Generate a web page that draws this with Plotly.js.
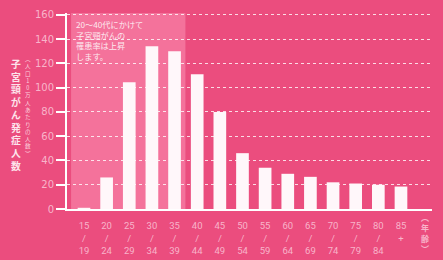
<!DOCTYPE html>
<html>
<head>
<meta charset="utf-8">
<script src="https://cdn.plot.ly/plotly-3.0.1.min.js"></script>
<style>html,body{margin:0;padding:0;background:#eb4d7e;}#chart{width:443px;height:260px;}</style>
</head>
<body>
<div id="chart"></div>
<script>
// Data
const ageGroups = ["15<br>/<br>19","20<br>/<br>24","25<br>/<br>29","30<br>/<br>34","35<br>/<br>39","40<br>/<br>44","45<br>/<br>49","50<br>/<br>54","55<br>/<br>59","60<br>/<br>64","65<br>/<br>69","70<br>/<br>74","75<br>/<br>79","80<br>/<br>84","85<br>+<br> "];
const incidence = [1, 26, 104.5, 134, 130, 111, 80, 46, 34, 29, 26.5, 22, 21, 20, 18.5];
const yTicks = [0, 20, 40, 60, 80, 100, 120, 140, 160];
const yTitle = "子宮頸がん発症人数";
const ySubTitle = "︵人口10万人あたりの人数︶";
const xTitle = "︵年齢︶";
const note = "20〜40代にかけて<br>子宮頸がんの<br>罹患率は上昇<br>します。";
const highlightFrom = 0, highlightTo = 4;

const W = 443, H = 260;
const M = {l: 67, r: 11, t: 13, b: 51};
const plotH = H - M.t - M.b, plotW = W - M.l - M.r;
const px2x = x => (x - M.l) / plotW;
const py2y = y => (H - M.b - y) / plotH;

const bg = '#eb4d7e';
const tickCol = '#f8b4ca';
const CJK = '"Noto Sans CJK JP", "Noto Sans", sans-serif';
const vertical = s => Array.from(s).join('<br>');

const annotations = [
  {xref:'paper', yref:'paper', x: px2x(16), y: py2y(55), text: vertical(yTitle), showarrow:false,
   xanchor:'center', yanchor:'top', font:{family:CJK, size:9.8, color:'#fde4ec', weight:700}},
  {xref:'paper', yref:'paper', x: px2x(27.5), y: py2y(53), text: vertical(ySubTitle), showarrow:false,
   xanchor:'center', yanchor:'top', font:{family:CJK, size:5.6, color:'#fbd0dd'}},
  {xref:'paper', yref:'paper', x: px2x(425), y: py2y(210), text: vertical(xTitle), showarrow:false,
   xanchor:'center', yanchor:'top', font:{family:CJK, size:8, color:tickCol, weight:700}},
  {xref:'paper', yref:'paper', x: px2x(74), y: py2y(16), text: note, showarrow:false,
   xanchor:'left', yanchor:'top', align:'left', font:{family:CJK, size:8.2, color:'#fde8ef'}}
];

const trace = {
  type: 'bar',
  x: ageGroups,
  y: incidence,
  marker: {color: '#fff7fa', line: {width: 0}},
  width: 0.56,
  hoverinfo: 'skip'
};

const layout = {
  width: W, height: H,
  margin: M,
  paper_bgcolor: bg,
  plot_bgcolor: 'rgba(0,0,0,0)',
  showlegend: false,
  xaxis: {
    type: 'category',
    range: [-0.75, 15.37],
    showgrid: false,
    zeroline: false,
    showline: true, linecolor: '#ffffff', linewidth: 2,
    ticks: '', ticklabelstandoff: 7,
    tickfont: {family: 'Roboto, sans-serif', size: 9.5, color: tickCol},
    fixedrange: true
  },
  yaxis: {
    range: [0, 161.5],
    tickvals: yTicks,
    ticktext: yTicks.map(String),
    showgrid: true, gridcolor: 'rgba(255,255,255,0.8)', griddash: 'dot', gridwidth: 1,
    zeroline: false,
    showline: true, linecolor: '#ffffff', linewidth: 2,
    ticks: 'outside', ticklen: 9, tickwidth: 2, tickcolor: '#ffffff',
    tickfont: {family: '"DejaVu Sans", sans-serif', size: 10, color: tickCol},
    fixedrange: true
  },
  shapes: [{
    type: 'rect', layer: 'below', xref: 'x', yref: 'paper',
    x0: highlightFrom - 0.57, x1: highlightTo + 0.48, y0: 0, y1: 1,
    fillcolor: 'rgba(255,160,190,0.45)', line: {width: 0}
  }],
  annotations: annotations
};

Plotly.newPlot('chart', [trace], layout, {displayModeBar: false, staticPlot: true});
</script>
</body>
</html>
